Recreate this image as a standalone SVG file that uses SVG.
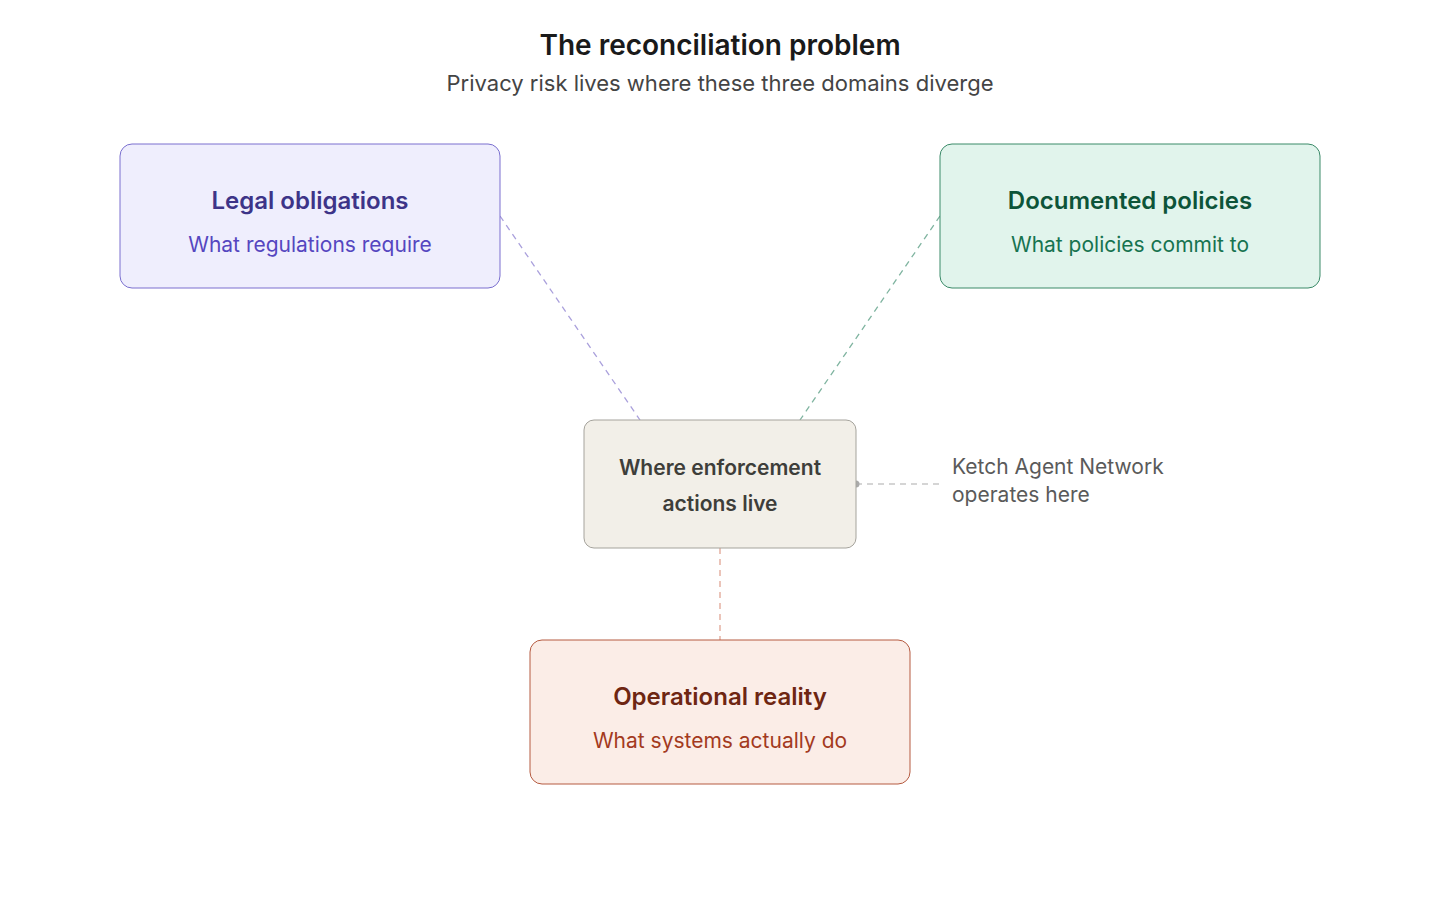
<svg xmlns="http://www.w3.org/2000/svg" width="1440" height="920" viewBox="0 0 1440 920">
<style>
text{font-family:Inter,"Noto Sans",sans-serif;text-anchor:middle}
.t{font-size:24px;font-weight:600}
.s{font-size:21px}
.c{fill:none;stroke-width:1.3;stroke-dasharray:6 5}
</style>
<rect width="1440" height="920" fill="#fff"/>
<text x="720" y="55" font-size="28" font-weight="600" fill="#1a1a1a">The reconciliation problem</text>
<text x="720" y="91" font-size="22" fill="#444">Privacy risk lives where these three domains diverge</text>
<g id="connectors">
<line class="c" x1="500" y1="216" x2="640" y2="420" stroke="#aaa0dc"/>
<line class="c" x1="940" y1="216" x2="800" y2="420" stroke="#7fb4a0"/>
<line class="c" x1="720" y1="548" x2="720" y2="640" stroke="#e0a594"/>
<line class="c" x1="856" y1="484" x2="942" y2="484" stroke="#c8c8c8"/>
<circle cx="856" cy="484" r="3.5" fill="#aaa"/>
</g>
<g id="legal">
<rect x="120" y="144" width="380" height="144" rx="12" fill="#efeefd" stroke="#7a6fcf"/>
<text class="t" x="310" y="209" fill="#3d3488">Legal obligations</text>
<text class="s" x="310" y="252" fill="#5546c0">What regulations require</text>
</g>
<g id="documented">
<rect x="940" y="144" width="380" height="144" rx="12" fill="#e1f4ec" stroke="#3a8a68"/>
<text class="t" x="1130" y="209" fill="#0d5439">Documented policies</text>
<text class="s" x="1130" y="252" fill="#177350">What policies commit to</text>
</g>
<g id="center">
<rect x="584" y="420" width="272" height="128" rx="10" fill="#f2efe8" stroke="#a5a39c"/>
<text x="720" y="475" font-size="21" font-weight="600" fill="#3e3e3a">Where enforcement</text>
<text x="720" y="511" font-size="21" font-weight="600" fill="#3e3e3a">actions live</text>
</g>
<g id="operational">
<rect x="530" y="640" width="380" height="144" rx="12" fill="#fbede7" stroke="#b55a40"/>
<text class="t" x="720" y="705" fill="#6e2612">Operational reality</text>
<text class="s" x="720" y="748" fill="#a33a1e">What systems actually do</text>
</g>
<g id="note">
<text x="952" y="474" font-size="21" fill="#5a5a5a" style="text-anchor:start">Ketch Agent Network</text>
<text x="952" y="502" font-size="21" fill="#5a5a5a" style="text-anchor:start">operates here</text>
</g>
</svg>
